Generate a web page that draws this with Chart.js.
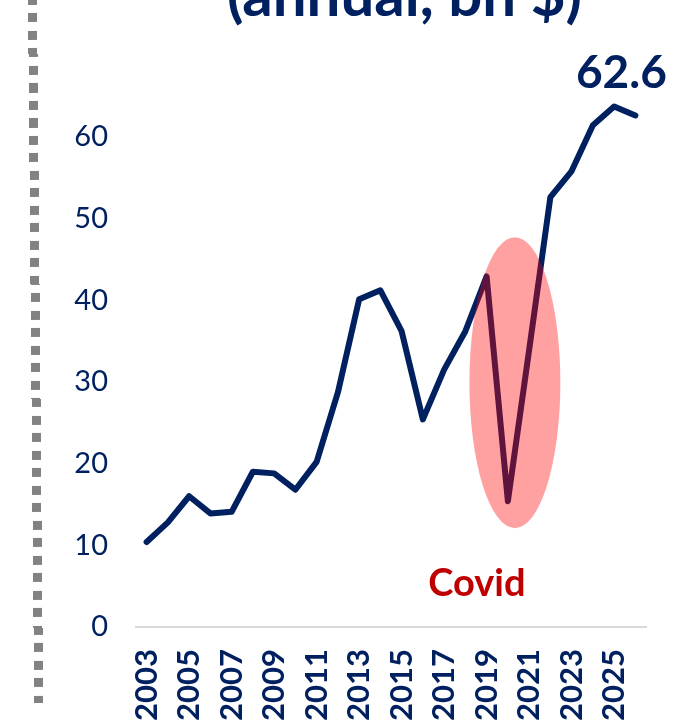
<!DOCTYPE html>
<html>
<head>
<meta charset="utf-8">
<script src="https://cdn.jsdelivr.net/npm/chart.js@4.4.1/dist/chart.umd.min.js"></script>
<style>
    html, body { margin: 0; padding: 0; background: #fff; overflow: hidden; }
    #wrap { position: absolute; left: 0; top: 0; width: 685px; height: 722px; }
    /* second line of the slide title, the first one is cut off above */
    #title {
        position: absolute; left: 0; top: -37px; width: 809px;
        text-align: center; white-space: nowrap;
        font: bold 60px/60px Lato; color: #002060;
    }
    /* grey dotted separator on the left of the slide */
    #sep {
        position: absolute; left: 28px; top: -4px; width: 9px; height: 707px;
        background: repeating-linear-gradient(to bottom, #828282 0px, #828282 9px, transparent 9px, transparent 17.5px);
        transform: rotate(-0.5deg);
        transform-origin: top left;
    }
</style>
</head>
<body>
<div id="wrap"><canvas id="chartExports" width="685" height="722"></canvas></div>
<div id="title">(annual, bn $)</div>
<div id="sep"></div>
<script>
// years on the x axis
const years = [
    '2003', '2004', '2005', '2006', '2007', '2008', '2009', '2010',
    '2011', '2012', '2013', '2014', '2015', '2016', '2017', '2018',
    '2019', '2020', '2021', '2022', '2023', '2024', '2025', '2026'
];
// annual values, bn $
const values = [
    10.4, 12.8, 16.0, 13.9, 14.1, 19.0, 18.8, 16.8,
    20.2, 28.7, 40.1, 41.2, 36.2, 25.4, 31.5, 36.2,
    42.9, 15.4, 33.9, 52.6, 55.8, 61.4, 63.7, 62.6
];
const yTicks = [0, 10, 20, 30, 40, 50, 60];

// covid highlight (in axis units: category index / value)
const covidText = 'Covid';
const covidEllipse = { xIndex: 17.33, xRadius: 2.14, yValue: 29.9, yRadius: 17.8 };
const covidLabel = { xIndex: 15.54, yValue: 3.8 };

const navy = '#002060';

// draws the covid ellipse, its label and the last value label
const overlayPlugin = {
    id: 'overlay',
    afterDatasetsDraw(chart) {
        const ctx = chart.ctx;
        const xs = chart.scales.x;
        const ys = chart.scales.y;

        // ellipse on top of the line (semi transparent)
        const cx = xs.getPixelForValue(covidEllipse.xIndex);
        const rx = xs.getPixelForValue(covidEllipse.xIndex + covidEllipse.xRadius) - cx;
        const cy = ys.getPixelForValue(covidEllipse.yValue);
        const ry = ys.getPixelForValue(covidEllipse.yValue - covidEllipse.yRadius) - cy;
        ctx.save();
        ctx.fillStyle = 'rgba(255, 0, 0, 0.37)';
        ctx.beginPath();
        ctx.ellipse(cx, cy, rx, ry, 0, 0, Math.PI * 2);
        ctx.fill();

        // covid text
        ctx.fillStyle = '#c00000';
        ctx.font = 'bold 38px Lato';
        ctx.textAlign = 'center';
        ctx.textBaseline = 'alphabetic';
        ctx.fillText(covidText, xs.getPixelForValue(covidLabel.xIndex), ys.getPixelForValue(covidLabel.yValue));

        // last value label
        const meta = chart.getDatasetMeta(0);
        const last = meta.data[meta.data.length - 1];
        ctx.fillStyle = navy;
        ctx.font = 'bold 46px Lato';
        ctx.fillText(values[values.length - 1].toFixed(1), last.x - 14, last.y - 27);
        ctx.restore();
    }
};

function loadChart() {
    const ctx = document.getElementById('chartExports');

    new Chart(ctx, {
        type: 'line',
        data: {
            labels: years,
            datasets: [{
                data: values,
                borderColor: navy,
                borderWidth: 6,
                borderJoinStyle: 'round',
                borderCapStyle: 'round',
                pointRadius: 0,
                tension: 0,
                fill: false
            }]
        },
        options: {
            responsive: false,
            animation: false,
            events: [],
            layout: {
                padding: { left: 0, right: 39, top: 55, bottom: 0 }
            },
            plugins: {
                legend: { display: false },
                tooltip: { enabled: false }
            },
            scales: {
                x: {
                    offset: true,
                    grid: { display: false, drawTicks: false },
                    border: { display: true, color: '#d9d9d9', width: 2 },
                    ticks: {
                        autoSkip: false,
                        maxRotation: 90,
                        minRotation: 90,
                        padding: 22,
                        color: navy,
                        font: { family: 'Lato', size: 31, weight: 'bold' },
                        callback: function (value, index) {
                            return index % 2 === 0 ? years[index] : '';
                        }
                    },
                    afterFit: function (scale) {
                        scale.height = 95;
                        scale.paddingLeft = 0;
                        scale.paddingRight = 0;
                    }
                },
                y: {
                    min: 0,
                    max: 70,
                    grid: { display: false, drawTicks: false },
                    border: { display: false },
                    afterBuildTicks: function (scale) {
                        scale.ticks = yTicks.map(v => ({ value: v }));
                    },
                    ticks: {
                        padding: 28,
                        color: navy,
                        font: { family: 'Lato', size: 29 }
                    },
                    afterFit: function (scale) {
                        scale.width = 136;
                        scale.paddingTop = 0;
                        scale.paddingBottom = 0;
                    }
                }
            }
        },
        plugins: [overlayPlugin]
    });
}

loadChart();
</script>
</body>
</html>
